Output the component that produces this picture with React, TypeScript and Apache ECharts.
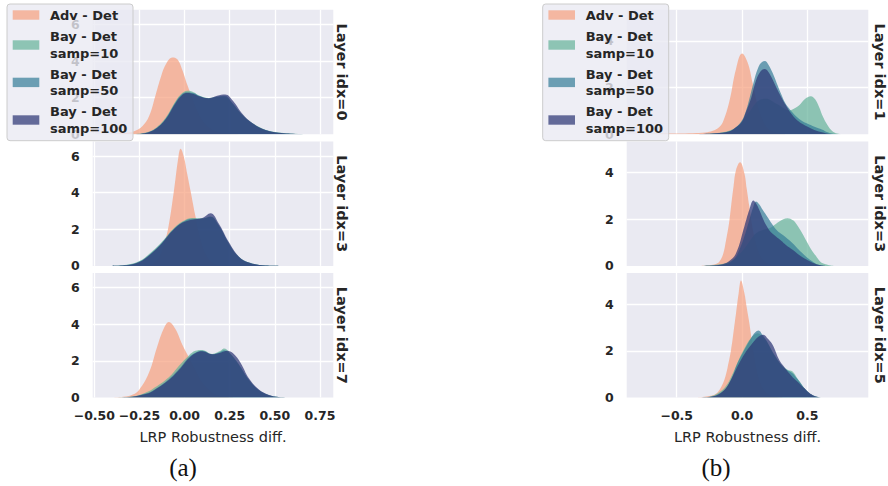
import { useEffect, useRef } from "react";
import * as echarts from "echarts";

// ---------- labels ----------
const seriesNames = ["Adv - Det", "Bay - Det\nsamp=10", "Bay - Det\nsamp=50", "Bay - Det\nsamp=100"];
const rowLabelsA = ["Layer idx=0", "Layer idx=3", "Layer idx=7"];
const rowLabelsB = ["Layer idx=1", "Layer idx=3", "Layer idx=5"];
const xAxisLabel = "LRP Robustness diff.";
const captions = ["(a)", "(b)"];

// ---------- panel (a) densities ----------
const advA0 = [[-0.45,0],[-0.38,0.03],[-0.32,0.08],[-0.28,0.16],[-0.234,0.44],[-0.197,0.98],[-0.16,2.16],[-0.133,3.07],[-0.105,3.8],[-0.068,4.2],[-0.04,4.1],[-0.013,3.53],[0.015,2.7],[0.042,2.0],[0.07,1.3],[0.1,0.75],[0.14,0.35],[0.2,0.1],[0.28,0.02],[0.35,0]];
const s10A0 = [[-0.3,0],[-0.22,0.08],[-0.16,0.35],[-0.105,0.9],[-0.05,1.8],[-0.013,2.25],[0.015,2.38],[0.05,2.3],[0.08,2.12],[0.135,1.98],[0.18,2.05],[0.22,2.05],[0.264,1.7],[0.32,1.07],[0.375,0.62],[0.448,0.25],[0.52,0.1],[0.63,0.02],[0.72,0]];
const s50A0 = [[-0.3,0],[-0.22,0.06],[-0.16,0.3],[-0.105,0.85],[-0.05,1.75],[-0.013,2.2],[0.015,2.3],[0.05,2.25],[0.08,2.1],[0.135,1.95],[0.18,2.05],[0.225,2.1],[0.264,1.72],[0.32,1.05],[0.375,0.6],[0.448,0.24],[0.52,0.09],[0.63,0.02],[0.72,0]];
const s100A0 = [[-0.3,0],[-0.22,0.06],[-0.16,0.3],[-0.105,0.82],[-0.05,1.7],[-0.013,2.15],[0.015,2.25],[0.05,2.2],[0.08,2.08],[0.135,1.97],[0.18,2.1],[0.225,2.17],[0.27,1.8],[0.32,1.12],[0.375,0.62],[0.448,0.24],[0.52,0.09],[0.63,0.02],[0.72,0]];

const advA3 = [[-0.26,0],[-0.2,0.05],[-0.15,0.35],[-0.114,1.2],[-0.09,2.1],[-0.059,4.1],[-0.035,5.9],[-0.022,6.4],[-0.005,6.0],[0.015,5.0],[0.033,4.1],[0.061,2.67],[0.09,1.4],[0.12,0.6],[0.16,0.15],[0.22,0.02],[0.28,0]];
const s10A3 = [[-0.4,0],[-0.345,0.03],[-0.253,0.25],[-0.179,0.8],[-0.124,1.33],[-0.068,1.98],[-0.013,2.42],[0.042,2.62],[0.098,2.6],[0.144,2.7],[0.19,2.2],[0.245,1.23],[0.3,0.5],[0.356,0.18],[0.448,0.02],[0.52,0]];
const s50A3 = [[-0.4,0],[-0.345,0.02],[-0.253,0.22],[-0.179,0.75],[-0.124,1.28],[-0.068,1.93],[-0.013,2.38],[0.042,2.58],[0.098,2.58],[0.144,2.68],[0.19,2.2],[0.245,1.23],[0.3,0.5],[0.356,0.18],[0.448,0.02],[0.52,0]];
const s100A3 = [[-0.4,0],[-0.345,0.02],[-0.253,0.2],[-0.179,0.72],[-0.124,1.25],[-0.068,1.9],[-0.013,2.35],[0.042,2.52],[0.098,2.62],[0.144,2.88],[0.19,2.3],[0.245,1.3],[0.3,0.52],[0.356,0.18],[0.448,0.02],[0.52,0]];

const advA7 = [[-0.4,0],[-0.327,0.05],[-0.29,0.15],[-0.253,0.4],[-0.197,1.36],[-0.151,2.8],[-0.114,3.8],[-0.087,4.13],[-0.05,3.73],[-0.013,2.9],[0.024,2.2],[0.06,1.5],[0.1,0.8],[0.15,0.3],[0.2,0.08],[0.28,0]];
const s10A7 = [[-0.38,0],[-0.29,0.05],[-0.22,0.25],[-0.179,0.45],[-0.087,1.1],[-0.031,1.73],[0.024,2.3],[0.06,2.55],[0.098,2.6],[0.153,2.38],[0.2,2.55],[0.218,2.67],[0.25,2.45],[0.3,1.8],[0.356,0.95],[0.41,0.4],[0.467,0.12],[0.52,0.03],[0.6,0]];
const s50A7 = [[-0.38,0],[-0.29,0.04],[-0.22,0.2],[-0.179,0.36],[-0.087,1.0],[-0.031,1.55],[0.024,2.2],[0.06,2.45],[0.098,2.55],[0.153,2.36],[0.2,2.5],[0.218,2.58],[0.25,2.42],[0.3,1.82],[0.356,0.98],[0.41,0.42],[0.467,0.13],[0.52,0.03],[0.6,0]];
const s100A7 = [[-0.38,0],[-0.29,0.04],[-0.22,0.18],[-0.179,0.33],[-0.087,0.95],[-0.031,1.5],[0.024,2.15],[0.06,2.42],[0.098,2.52],[0.153,2.36],[0.2,2.45],[0.235,2.55],[0.27,2.4],[0.31,1.9],[0.356,1.05],[0.41,0.45],[0.467,0.14],[0.52,0.03],[0.6,0]];

// ---------- panel (b) densities ----------
const advB1 = [[-0.75,0],[-0.6,0.03],[-0.376,0.05],[-0.28,0.08],[-0.224,0.15],[-0.18,0.28],[-0.148,0.5],[-0.097,1.4],[-0.046,2.8],[0.0,3.46],[0.043,3.07],[0.081,2.2],[0.12,1.24],[0.16,0.6],[0.2,0.25],[0.26,0.08],[0.34,0]];
const s10B1 = [[-0.35,0],[-0.2,0.05],[-0.1,0.15],[-0.046,0.3],[0.0,0.55],[0.056,0.95],[0.1,1.3],[0.132,1.46],[0.18,1.52],[0.209,1.49],[0.25,1.35],[0.285,1.24],[0.33,1.08],[0.361,1.02],[0.4,1.1],[0.438,1.24],[0.48,1.5],[0.527,1.63],[0.56,1.5],[0.59,1.17],[0.62,0.75],[0.654,0.4],[0.69,0.14],[0.72,0.05],[0.78,0]];
const s50B1 = [[-0.35,0],[-0.2,0.04],[-0.1,0.12],[-0.046,0.3],[0.0,0.6],[0.03,1.0],[0.06,1.6],[0.094,2.34],[0.12,2.8],[0.145,3.05],[0.175,3.14],[0.2,3.0],[0.234,2.63],[0.265,2.2],[0.298,1.75],[0.33,1.35],[0.361,1.1],[0.4,0.85],[0.438,0.66],[0.49,0.48],[0.54,0.36],[0.58,0.27],[0.616,0.2],[0.65,0.1],[0.69,0.03],[0.74,0]];
const s100B1 = [[-0.35,0],[-0.2,0.04],[-0.1,0.12],[-0.046,0.3],[0.0,0.55],[0.03,0.95],[0.07,1.55],[0.107,2.3],[0.14,2.68],[0.175,2.8],[0.21,2.6],[0.26,2.04],[0.3,1.6],[0.336,1.24],[0.375,0.9],[0.412,0.66],[0.46,0.45],[0.514,0.29],[0.57,0.15],[0.64,0.05],[0.7,0]];

const advB3 = [[-0.32,0],[-0.25,0.03],[-0.2,0.08],[-0.173,0.19],[-0.145,0.5],[-0.122,1.11],[-0.1,1.8],[-0.084,2.54],[-0.065,3.4],[-0.046,4.1],[-0.015,4.44],[0.018,3.97],[0.036,3.3],[0.056,2.54],[0.075,1.8],[0.094,1.26],[0.132,0.54],[0.17,0.2],[0.21,0.08],[0.3,0]];
const s10B3 = [[-0.3,0],[-0.2,0.05],[-0.12,0.12],[-0.07,0.25],[-0.02,0.5],[0.03,0.83],[0.07,1.15],[0.107,1.4],[0.158,1.54],[0.2,1.6],[0.234,1.69],[0.285,1.9],[0.349,2.04],[0.39,1.95],[0.412,1.83],[0.45,1.5],[0.489,1.11],[0.53,0.7],[0.565,0.43],[0.6,0.18],[0.64,0.07],[0.7,0]];
const s50B3 = [[-0.3,0],[-0.2,0.03],[-0.122,0.08],[-0.06,0.3],[-0.02,0.69],[0.02,1.3],[0.056,1.97],[0.085,2.5],[0.107,2.76],[0.13,2.65],[0.158,2.4],[0.2,2.05],[0.234,1.76],[0.27,1.5],[0.31,1.33],[0.35,1.15],[0.387,0.97],[0.425,0.75],[0.463,0.54],[0.5,0.35],[0.54,0.19],[0.58,0.06],[0.63,0]];
const s100B3 = [[-0.3,0],[-0.17,0.05],[-0.1,0.2],[-0.046,0.54],[0.018,1.69],[0.056,2.4],[0.087,2.8],[0.11,2.65],[0.132,2.4],[0.158,2.05],[0.183,1.76],[0.22,1.45],[0.26,1.26],[0.3,1.08],[0.336,0.9],[0.39,0.68],[0.438,0.47],[0.49,0.28],[0.54,0.14],[0.6,0.03],[0.65,0]];

const advB5 = [[-0.35,0],[-0.3,0.02],[-0.25,0.06],[-0.2,0.16],[-0.165,0.4],[-0.135,0.76],[-0.11,1.3],[-0.084,2.04],[-0.065,2.8],[-0.046,3.61],[-0.025,4.5],[-0.008,5.01],[0.018,4.47],[0.036,3.85],[0.056,3.19],[0.075,2.45],[0.094,1.76],[0.112,1.2],[0.132,0.76],[0.16,0.4],[0.2,0.15],[0.25,0.04],[0.32,0]];
const s10B5 = [[-0.32,0],[-0.25,0.03],[-0.18,0.2],[-0.122,0.5],[-0.07,1.04],[-0.03,1.55],[0.018,2.1],[0.069,2.55],[0.12,2.75],[0.15,2.65],[0.183,2.45],[0.247,1.83],[0.3,1.4],[0.345,1.2],[0.387,1.11],[0.42,0.85],[0.45,0.61],[0.48,0.38],[0.514,0.19],[0.55,0.07],[0.6,0]];
const s50B5 = [[-0.32,0],[-0.25,0.02],[-0.18,0.15],[-0.122,0.4],[-0.07,0.95],[-0.046,1.33],[0.018,2.04],[0.069,2.54],[0.1,2.78],[0.127,2.87],[0.155,2.7],[0.183,2.47],[0.247,1.83],[0.323,1.26],[0.387,1.04],[0.42,0.82],[0.45,0.61],[0.48,0.38],[0.514,0.19],[0.55,0.07],[0.6,0]];
const s100B5 = [[-0.32,0],[-0.22,0.05],[-0.15,0.25],[-0.1,0.6],[-0.046,1.2],[0.018,1.85],[0.081,2.33],[0.125,2.6],[0.163,2.69],[0.2,2.5],[0.234,2.26],[0.285,1.61],[0.325,1.3],[0.361,1.04],[0.4,0.8],[0.438,0.61],[0.48,0.38],[0.514,0.2],[0.55,0.08],[0.6,0]];

// ---------- styling / layout ----------
const FONT = '"DejaVu Sans", sans-serif';
const TEXT = "#262626";
const fills = [
  "rgba(246,160,125,0.7)",
  "rgba(100,178,153,0.7)",
  "rgba(51,124,151,0.7)",
  "rgba(46,56,118,0.72)",
];
const rowTops = [9.8, 141.4, 273.0];
const rowH = 124.5;

const panels = [
  { left: 92.7, width: 240.6, xMin: -0.509, xMax: 0.824, xStep: 0.25, dec: 2, yMax: 6.8,
    rows: [[advA0, s10A0, s50A0, s100A0], [advA3, s10A3, s50A3, s100A3], [advA7, s10A7, s50A7, s100A7]],
    rowLabels: rowLabelsA, rowLabelX: 342, legendX: 7, captionX: 183 },
  { left: 626.7, width: 241.6, xMin: -0.883, xMax: 0.967, xStep: 0.5, dec: 1, yMax: 5.33,
    rows: [[advB1, s10B1, s50B1, s100B1], [advB3, s10B3, s50B3, s100B3], [advB5, s10B5, s50B5, s100B5]],
    rowLabels: rowLabelsB, rowLabelX: 880, legendX: 542.7, captionX: 716 },
];

const fmt = (v: number, dec: number) => (v < 0 ? "\u2212" : "") + Math.abs(v).toFixed(dec);

function buildOption() {
  const grid: any[] = [];
  const xAxis: any[] = [];
  const yAxis: any[] = [];
  const series: any[] = [];
  const graphic: any[] = [];

  panels.forEach((p, pi) => {
    p.rows.forEach((rowData, r) => {
      const gi = grid.length;
      grid.push({
        left: p.left, top: rowTops[r], width: p.width, height: rowH,
        show: true, backgroundColor: "#eaeaf2", borderWidth: 0, containLabel: false,
      });
      const last = r === p.rows.length - 1;
      xAxis.push({
        gridIndex: gi, type: "value", min: p.xMin, max: p.xMax,
        minInterval: p.xStep, maxInterval: p.xStep,
        axisLine: { show: false }, axisTick: { show: false },
        splitLine: { show: true, showMinLine: false, showMaxLine: false, lineStyle: { color: "#ffffff", width: 1.3 } },
        axisLabel: {
          show: last, showMinLabel: false, showMaxLabel: false, margin: 11,
          formatter: (v: number) => fmt(v, p.dec),
          fontFamily: FONT, fontWeight: "bold", fontSize: 12.5, color: TEXT,
        },
        name: last ? xAxisLabel : "",
        nameLocation: "middle", nameGap: 32,
        nameTextStyle: { fontFamily: FONT, fontSize: 14.5, color: TEXT },
      });
      yAxis.push({
        gridIndex: gi, type: "value", min: 0, max: p.yMax, interval: 2,
        axisLine: { show: false }, axisTick: { show: false },
        splitLine: { show: true, showMinLine: false, showMaxLine: false, lineStyle: { color: "#ffffff", width: 1.3 } },
        axisLabel: {
          show: true, showMaxLabel: false, margin: 13,
          formatter: (v: number) => String(Math.round(v)),
          fontFamily: FONT, fontWeight: "bold", fontSize: 12.5, color: TEXT,
        },
      });
      rowData.forEach((d, si) => {
        series.push({
          type: "line", name: seriesNames[si], xAxisIndex: gi, yAxisIndex: gi,
          data: d, smooth: 0.4, showSymbol: false, symbol: "none", silent: true,
          lineStyle: { width: 0 }, itemStyle: { color: fills[si] },
          areaStyle: { color: fills[si], opacity: 1 }, z: 2 + si,
        });
      });
      graphic.push({
        type: "text", x: p.rowLabelX, y: rowTops[r] + rowH / 2, rotation: -Math.PI / 2, z: 50,
        style: { text: p.rowLabels[r], fill: TEXT, font: `bold 14.5px ${FONT}`, textAlign: "center", textVerticalAlign: "middle" },
      });
    });

    // legend box drawn above the plots, so the axis labels behind it show faintly
    const lx = p.legendX;
    graphic.push({ type: "rect", x: lx, y: 4, z: 200, zlevel: 0, shape: { width: 126, height: 136.7, r: 3 },
      style: { fill: "rgba(234,234,242,0.8)", stroke: "#cccccc", lineWidth: 1 } });
    const centers = [15, 45, 82.4, 120];
    seriesNames.forEach((nm, i) => {
      graphic.push({ type: "rect", x: lx + 5.7, y: centers[i] - 4.7, z: 201, shape: { width: 26.6, height: 9.4 }, style: { fill: fills[i] } });
      graphic.push({ type: "text", x: lx + 43, y: centers[i], z: 201,
        style: { text: nm, fill: TEXT, font: `bold 13px ${FONT}`, textAlign: "left", textVerticalAlign: "middle", lineHeight: 16.7 } });
    });

    graphic.push({
      type: "text", x: p.captionX, y: 467, z: 50,
      style: { text: captions[pi], fill: "#111111", font: `25px "Liberation Serif", serif`, textAlign: "center", textVerticalAlign: "middle" },
    });
  });

  return { animation: false, backgroundColor: "#ffffff", grid, xAxis, yAxis, series, graphic };
}

export default function App() {
  const ref = useRef<HTMLDivElement>(null);
  useEffect(() => {
    if (!ref.current) return;
    const chart = echarts.init(ref.current, null, { renderer: "svg" });
    chart.setOption(buildOption() as any);
    return () => chart.dispose();
  }, []);
  return <div ref={ref} style={{ position: "fixed", left: 0, top: 0, width: 888, height: 486, background: "#fff" }} />;
}
